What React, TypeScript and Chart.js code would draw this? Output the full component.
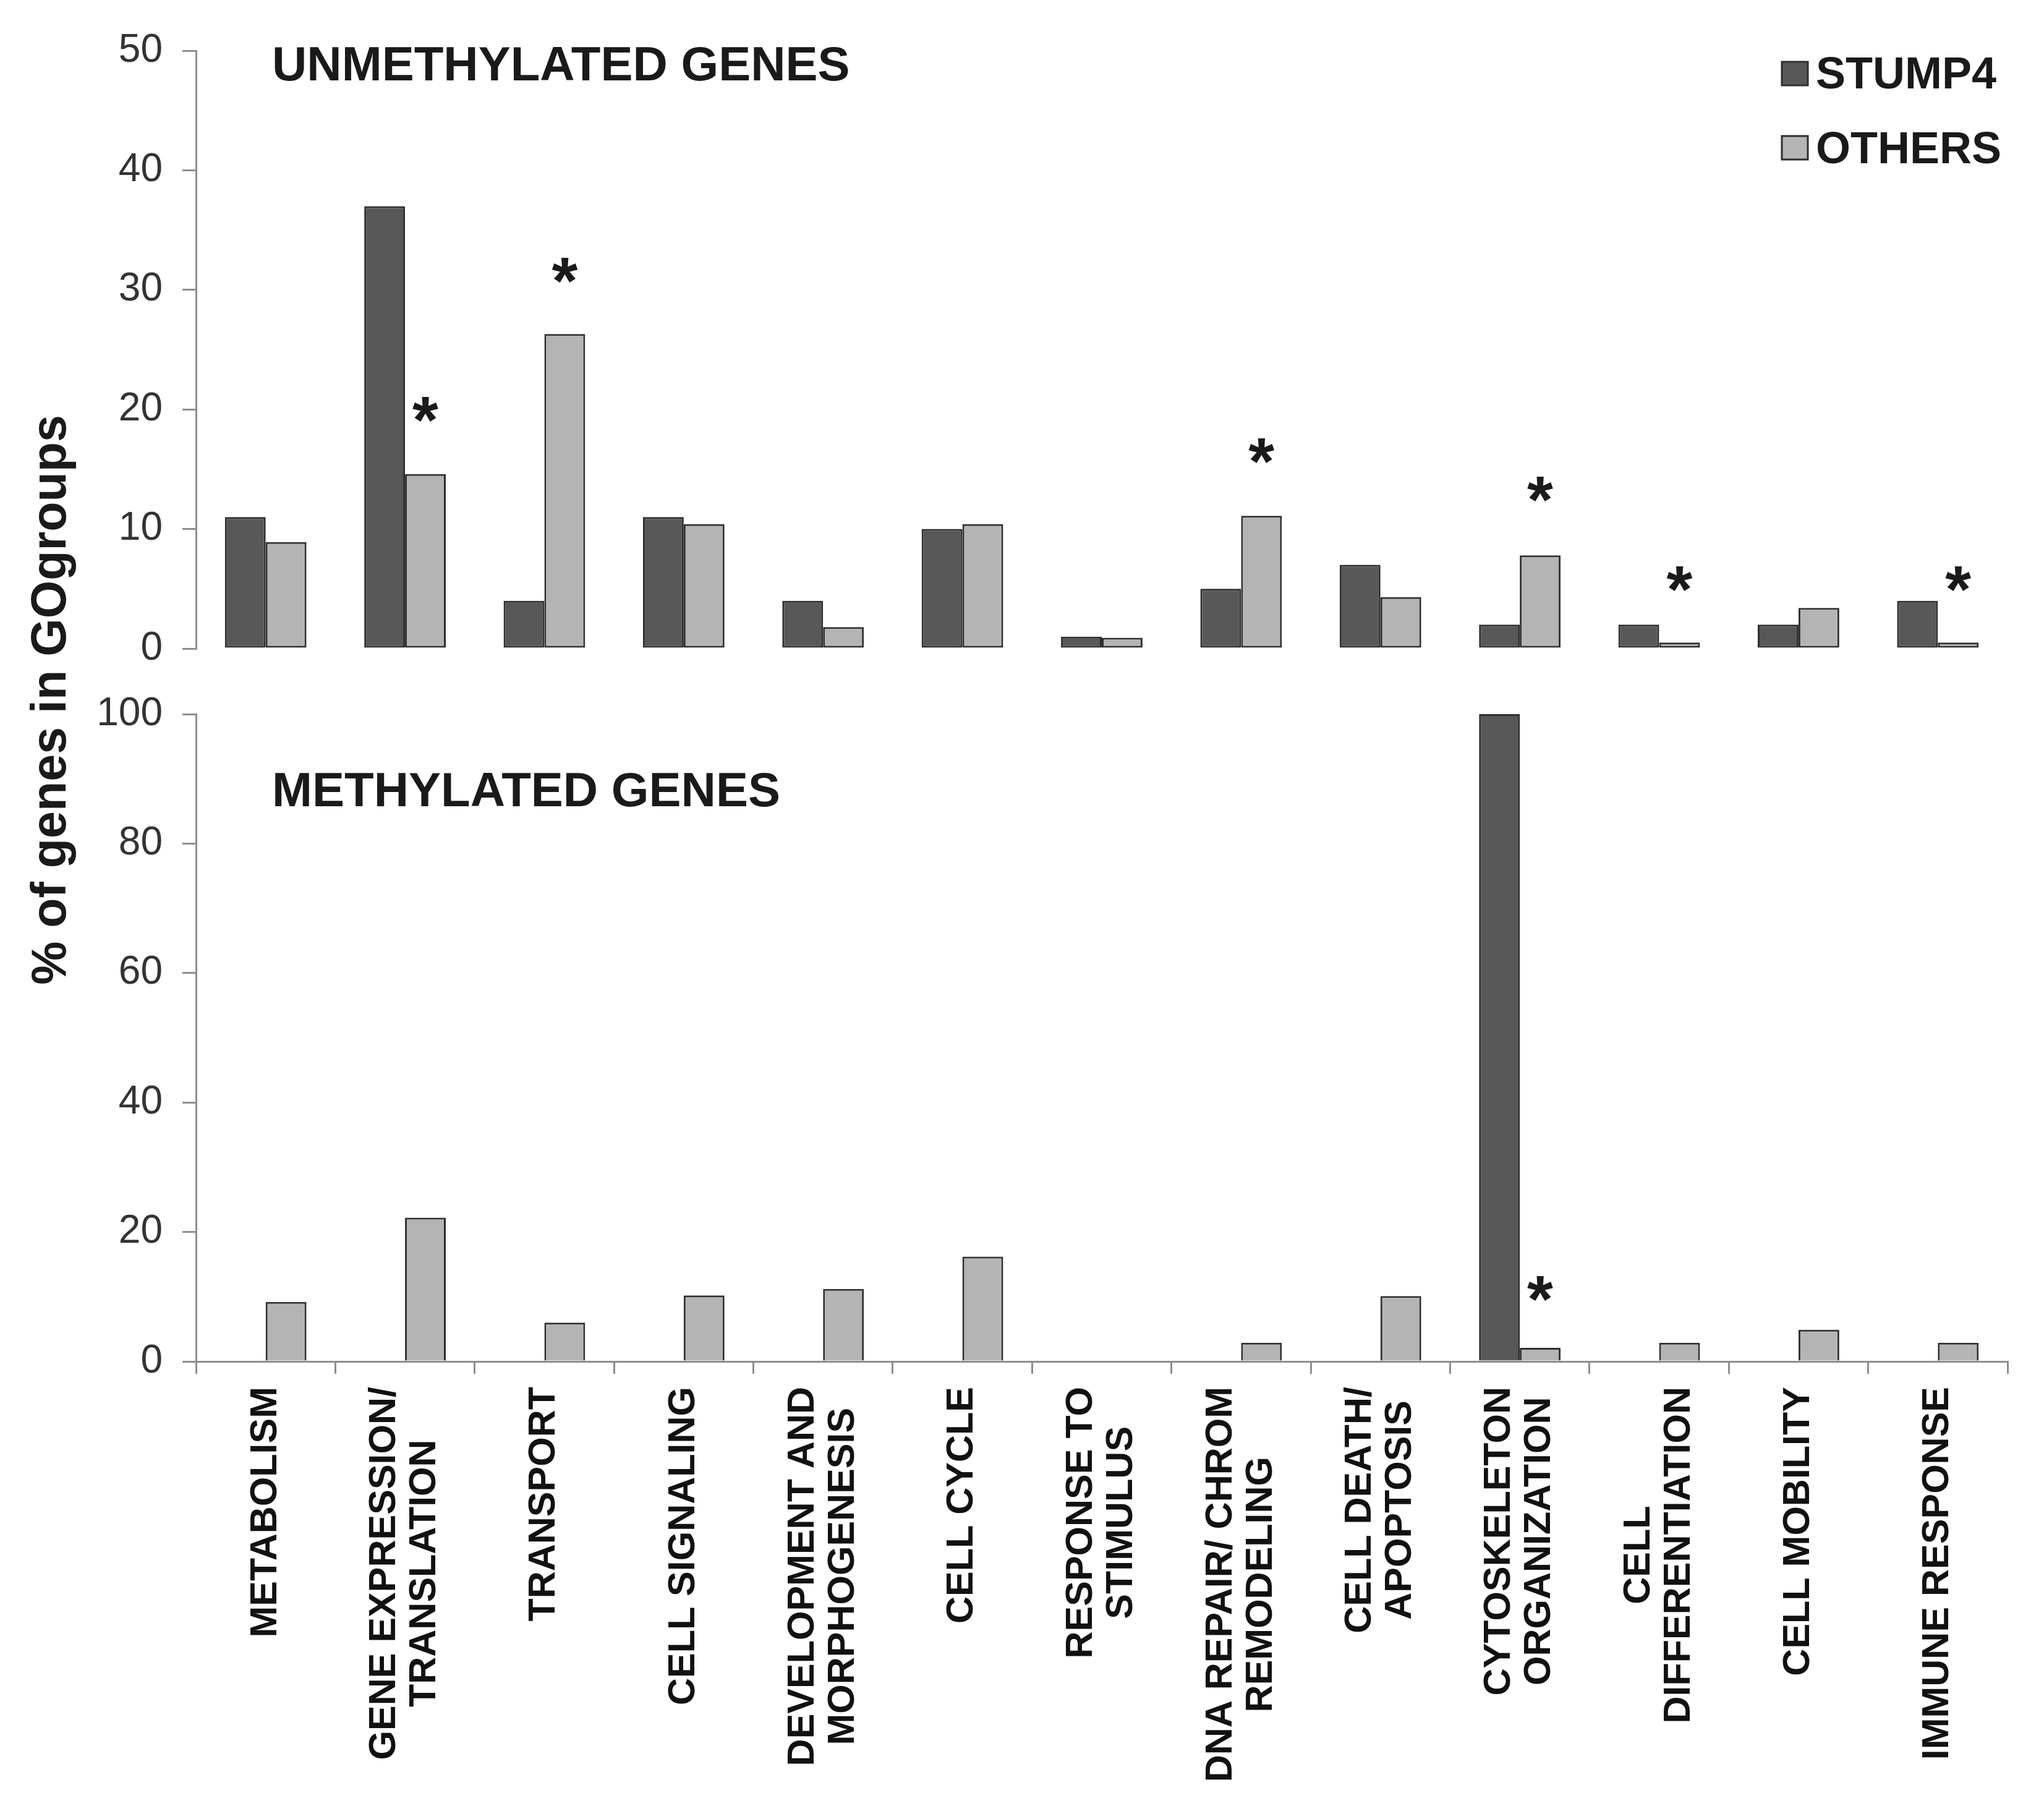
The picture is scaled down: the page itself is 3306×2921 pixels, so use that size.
import React, { useEffect, useRef } from "react";
import { Chart, registerables } from "chart.js";

Chart.register(...registerables);

// ---------------- DATA ----------------
const categories: string[][] = [
  ["METABOLISM"],
  ["GENE EXPRESSION/", "TRANSLATION"],
  ["TRANSPORT"],
  ["CELL SIGNALING"],
  ["DEVELOPMENT AND", "MORPHOGENESIS"],
  ["CELL CYCLE"],
  ["RESPONSE TO", "STIMULUS"],
  ["DNA REPAIR/ CHROM", "REMODELING"],
  ["CELL DEATH/", "APOPTOSIS"],
  ["CYTOSKELETON", "ORGANIZATION"],
  ["CELL", "DIFFERENTIATION"],
  ["CELL MOBILITY"],
  ["IMMUNE RESPONSE"],
];

const seriesNames = ["STUMP4", "OTHERS"];

// Unmethylated genes (top panel)
const unmethStump4 = [11, 37, 4, 11, 4, 10, 1, 5, 7, 2, 2, 2, 4];
const unmethOthers = [8.9, 14.6, 26.3, 10.4, 1.8, 10.4, 0.9, 11.1, 4.3, 7.8, 0.5, 3.4, 0.5];
// significance markers (value level where the * sits), top panel
const unmethStars: (number | null)[] = [null, 20, 31.6, null, null, null, null, 16.5, null, 13.3, 5.8, null, 5.8];

// Methylated genes (bottom panel)
const methStump4 = [0, 0, 0, 0, 0, 0, 0, 0, 0, 100, 0, 0, 0];
const methOthers = [9.2, 22.2, 6, 10.2, 11.2, 16.2, 0, 2.9, 10.1, 2.1, 2.9, 4.9, 2.9];
const methStars: (number | null)[] = [null, null, null, null, null, null, null, null, null, 11.2, null, null, null];

const unmethAxis = { max: 50, step: 10 };
const methAxis = { max: 100, step: 20 };

const panelTitles = ["UNMETHYLATED GENES", "METHYLATED GENES"];
const yAxisTitle = "% of genes in GOgroups";

// ---------------- STYLE ----------------
const FONT = "'Liberation Sans', Arial, Helvetica, sans-serif";
const DARK = "#585858";
const LIGHT = "#b4b4b4";
const EDGE = "#2e2e2e";
const AXIS = "#8e8e8e";
const TEXT = "#1a1a1a";

const W = 3306;
const TOP_H = 1100;
const BOT_H = 2921 - 1100;

type OverlayOpts = {
  title: string;
  titleBaseline: number;
  stars: (number | null)[];
  legend: boolean;
  xLabels: boolean;
};

function overlayPlugin(o: OverlayOpts) {
  return {
    id: "overlay",
    afterDraw(chart: any) {
      const ctx: CanvasRenderingContext2D = chart.ctx;
      const ys = chart.scales.y;
      const area = chart.chartArea;
      ctx.save();

      // panel title
      ctx.font = `bold 78px ${FONT}`;
      ctx.fillStyle = TEXT;
      ctx.textAlign = "left";
      ctx.textBaseline = "alphabetic";
      ctx.fillText(o.title, area.left + 123, o.titleBaseline);

      // stars
      ctx.font = `bold 100px ${FONT}`;
      const m100 = ctx.measureText("*");
      const w100 = m100.actualBoundingBoxLeft + m100.actualBoundingBoxRight || 40;
      const size = (100 * 42) / w100;
      ctx.font = `bold ${size}px ${FONT}`;
      const sm = ctx.measureText("*");
      const cxOff = (sm.actualBoundingBoxRight - sm.actualBoundingBoxLeft) / 2;
      const cyOff = (sm.actualBoundingBoxDescent - sm.actualBoundingBoxAscent) / 2;
      const meta = chart.getDatasetMeta(1);
      o.stars.forEach((v, i) => {
        if (v == null) return;
        const bar = meta.data[i];
        if (!bar) return;
        const px = bar.x;
        const py = ys.getPixelForValue(v);
        ctx.fillStyle = TEXT;
        ctx.fillText("*", px - cxOff, py - cyOff);
      });

      // legend
      if (o.legend) {
        chart.data.datasets.forEach((ds: any, i: number) => {
          const bx = area.right - 365;
          const by = 100 + i * 120;
          ctx.fillStyle = ds.backgroundColor;
          ctx.fillRect(bx, by, 42, 38);
          ctx.strokeStyle = EDGE;
          ctx.lineWidth = 3;
          ctx.strokeRect(bx, by, 42, 38);
          ctx.font = `bold 72px ${FONT}`;
          ctx.fillStyle = TEXT;
          ctx.textAlign = "left";
          ctx.textBaseline = "alphabetic";
          ctx.fillText(ds.label, bx + 55, 143 + i * 121);
        });
      }

      // rotated, centered multi-line category labels
      if (o.xLabels) {
        const xs = chart.scales.x;
        ctx.font = `bold 61px ${FONT}`;
        ctx.fillStyle = "#111";
        ctx.textAlign = "center";
        ctx.textBaseline = "middle";
        const top = area.bottom + 41;
        chart.data.labels.forEach((lab: any, i: number) => {
          const lines: string[] = Array.isArray(lab) ? lab : [String(lab)];
          const maxW = Math.max(...lines.map((l) => ctx.measureText(l).width));
          const x = xs.getPixelForValue(i);
          ctx.save();
          ctx.translate(x, top);
          ctx.rotate(-Math.PI / 2);
          lines.forEach((l, j) => {
            ctx.fillText(l, -maxW / 2, (j - (lines.length - 1) / 2) * 65);
          });
          ctx.restore();
        });
      }
      ctx.restore();
    },
  };
}

function makeConfig(
  stump: number[],
  others: number[],
  axis: { max: number; step: number },
  isTop: boolean,
  plugin: any
): any {
  const bw = (c: any) => (c.raw ? 3 : 0);
  return {
    type: "bar",
    data: {
      labels: categories,
      datasets: [
        {
          label: seriesNames[0],
          data: stump,
          backgroundColor: DARK,
          borderColor: EDGE,
          borderWidth: bw,
          borderSkipped: isTop ? false : "start",
          barPercentage: 1,
          categoryPercentage: 0.585,
        },
        {
          label: seriesNames[1],
          data: others,
          backgroundColor: LIGHT,
          borderColor: EDGE,
          borderWidth: bw,
          borderSkipped: isTop ? false : "start",
          barPercentage: 1,
          categoryPercentage: 0.585,
        },
      ],
    },
    options: {
      responsive: false,
      devicePixelRatio: 1,
      animation: false,
      events: [],
      layout: {
        padding: isTop
          ? { left: 0, right: 59, top: 82, bottom: 51 }
          : { left: 0, right: 59, top: 55, bottom: 0 },
      },
      plugins: {
        legend: { display: false },
        tooltip: { enabled: false },
        title: { display: false },
      },
      scales: {
        x: isTop
          ? { display: false }
          : {
              display: true,
              z: 1,
              border: { display: true, color: AXIS, width: 3 },
              grid: {
                display: true,
                drawOnChartArea: false,
                drawTicks: true,
                tickLength: 20,
                offset: true,
                color: AXIS,
                lineWidth: 3,
              },
              ticks: { display: false, autoSkip: false },
              afterFit: (s: any) => {
                s.height = BOT_H - 1102;
              },
            },
        y: {
          min: 0,
          max: axis.max,
          ticks: {
            stepSize: axis.step,
            font: { family: FONT, size: 64 },
            color: "#333",
            padding: 32,
          },
          grid: {
            display: true,
            drawOnChartArea: false,
            drawTicks: true,
            tickLength: 22,
            color: AXIS,
            lineWidth: 3,
          },
          border: { display: true, color: AXIS, width: 3 },
          afterFit: (s: any) => {
            s.width = 317;
            s.paddingTop = 0;
            s.paddingBottom = 0;
          },
        },
      },
    },
    plugins: [plugin],
  };
}

export default function App() {
  const topRef = useRef<HTMLCanvasElement>(null);
  const botRef = useRef<HTMLCanvasElement>(null);

  useEffect(() => {
    document.body.style.margin = "0";
    const c1 = new Chart(
      topRef.current as HTMLCanvasElement,
      makeConfig(
        unmethStump4,
        unmethOthers,
        unmethAxis,
        true,
        overlayPlugin({ title: panelTitles[0], titleBaseline: 130, stars: unmethStars, legend: true, xLabels: false })
      )
    );
    const c2 = new Chart(
      botRef.current as HTMLCanvasElement,
      makeConfig(
        methStump4,
        methOthers,
        methAxis,
        false,
        overlayPlugin({ title: panelTitles[1], titleBaseline: 204, stars: methStars, legend: false, xLabels: true })
      )
    );
    return () => {
      c1.destroy();
      c2.destroy();
    };
  }, []);

  return (
    <div style={{ position: "relative", width: W, height: 2921, background: "#fff", overflow: "hidden" }}>
      <canvas
        ref={topRef}
        width={W}
        height={TOP_H}
        style={{ position: "absolute", left: 0, top: 0, width: W, height: TOP_H, display: "block" }}
      />
      <canvas
        ref={botRef}
        width={W}
        height={BOT_H}
        style={{ position: "absolute", left: 0, top: TOP_H, width: W, height: BOT_H, display: "block" }}
      />
      <div
        style={{
          position: "absolute",
          left: 79 - 600,
          top: 1132 - 50,
          width: 1200,
          height: 100,
          lineHeight: "100px",
          textAlign: "center",
          transform: "rotate(-90deg)",
          transformOrigin: "50% 50%",
          fontFamily: FONT,
          fontWeight: "bold",
          fontSize: 79,
          color: TEXT,
          whiteSpace: "nowrap",
        }}
      >
        {yAxisTitle}
      </div>
    </div>
  );
}
